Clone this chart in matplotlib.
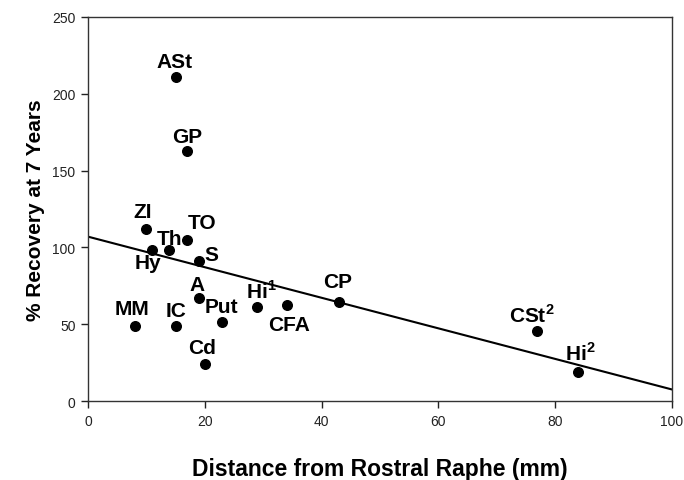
import matplotlib
matplotlib.use("Agg")
import matplotlib.pyplot as plt

plt.rcParams['font.family'] = ['Liberation Sans', 'DejaVu Sans']
plt.rcParams['mathtext.fontset'] = 'custom'
plt.rcParams['mathtext.rm'] = 'Liberation Sans:bold'
plt.rcParams['mathtext.bf'] = 'Liberation Sans:bold'

# region labels, distance (mm) and % recovery
regions = ["ASt", "GP", "ZI", "TO", "Th", "Hy", "S", "A", "MM", "IC", "Put",
           "Cd", "Hi$^{1}$", "CFA", "CP", "CSt$^{2}$", "Hi$^{2}$"]
distance = [15.1, 17.0, 10.0, 17.0, 13.9, 11.0, 19.0, 19.0, 8.0, 15.0, 23.0,
            20.0, 29.0, 34.0, 43.0, 76.9, 83.9]
recovery = [211, 162.5, 112, 105, 98.5, 98, 91.3, 67.3, 49, 48.6, 51.6,
            24, 61, 62.7, 64.6, 45.4, 19.1]

# regression line end points
fit_x = [0, 100]
fit_y = [107, 7.5]

# label offsets in pixels (dx, dy)
offsets = {"ASt": (-2, 15), "GP": (0, 15), "ZI": (-4, 17), "TO": (15, 17),
           "Th": (0, 11), "Hy": (-4, -12), "S": (12, 6), "A": (-2, 13),
           "MM": (-3, 17), "IC": (0, 16), "Put": (-1, 15), "Cd": (-3, 17),
           "Hi$^{1}$": (4, 17), "CFA": (3, -20), "CP": (-1, 20),
           "CSt$^{2}$": (-5, 17), "Hi$^{2}$": (2, 19)}

fig = plt.figure(figsize=(6.84, 4.81), dpi=100)
ax = fig.add_axes([88 / 684, 1 - 402 / 481, 584 / 684, 384 / 481])

ax.plot(fit_x, fit_y, color="black", lw=1.5, zorder=2)
ax.scatter(distance, recovery, s=48, color="black", zorder=3)

for name, x, y in zip(regions, distance, recovery):
    dx, dy = offsets[name]
    ax.annotate(name, (x, y), xytext=(dx, dy), textcoords="offset pixels",
                ha="center", va="center", fontsize=15, fontweight="bold")

ax.set_xlim(0, 100)
ax.set_ylim(0, 250)
ax.set_xticks(range(0, 101, 20))
ax.set_yticks(range(0, 251, 50))
ax.tick_params(labelsize=10, length=5, width=1, colors="#222222", pad=4)
for sp in ax.spines.values():
    sp.set_color("#333333")
    sp.set_linewidth(1)

ax.set_xlabel("Distance from Rostral Raphe (mm)", fontsize=16.5, fontweight="bold", labelpad=21)
ax.set_ylabel("% Recovery at 7 Years", fontsize=15, fontweight="bold", labelpad=5)

fig.savefig("out.png", dpi=100)
